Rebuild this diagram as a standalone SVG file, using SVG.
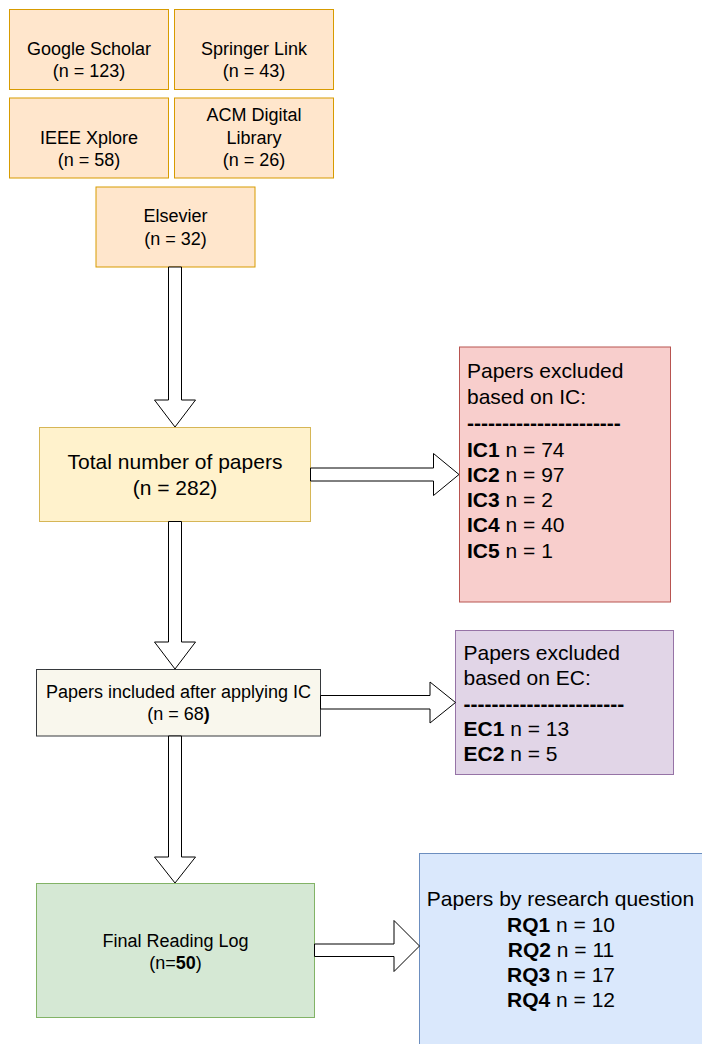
<svg xmlns="http://www.w3.org/2000/svg" width="702" height="1044" viewBox="0 0 702 1044">
<style>
text { font-family: "Liberation Sans", Arial, Helvetica, sans-serif; fill: #000; }
.c { text-anchor: middle; }
.s18 { font-size: 18px; }
.s21 { font-size: 21px; }
b, .b { font-weight: bold; }
.src { fill: #ffe6cc; stroke: #d79b00; stroke-width: 1; }
.arrow { fill: #ffffff; stroke: #000000; stroke-width: 1; stroke-linejoin: miter; }
</style>
<rect width="702" height="1044" fill="#ffffff"/>

<g id="google-scholar">
<rect class="src" x="9.5" y="9.5" width="159" height="80"/>
<text class="c s18" x="89" y="54.5">Google Scholar</text>
<text class="c s18" x="89" y="77">(n = 123)</text>
</g>
<g id="springer-link">
<rect class="src" x="174.5" y="9.5" width="159" height="80"/>
<text class="c s18" x="254" y="54.5">Springer Link</text>
<text class="c s18" x="254" y="77">(n = 43)</text>
</g>
<g id="ieee-xplore">
<rect class="src" x="9.5" y="98" width="159" height="80"/>
<text class="c s18" x="89" y="143.5">IEEE Xplore</text>
<text class="c s18" x="89" y="166">(n = 58)</text>
</g>
<g id="acm">
<rect class="src" x="174.5" y="98" width="159" height="80"/>
<text class="c s18" x="254" y="121">ACM Digital</text>
<text class="c s18" x="254" y="143.5">Library</text>
<text class="c s18" x="254" y="166">(n = 26)</text>
</g>
<g id="elsevier">
<rect class="src" x="96" y="187" width="159" height="80"/>
<text class="c s18" x="175.5" y="222">Elsevier</text>
<text class="c s18" x="175.5" y="244.5">(n = 32)</text>
</g>

<g id="total">
<rect x="39.5" y="427.5" width="271" height="94" fill="#fff2cc" stroke="#d6b656"/>
<text class="c s21" x="175" y="468.5">Total number of papers</text>
<text class="c s21" x="175" y="494.5">(n = 282)</text>
</g>

<g id="excluded-ic">
<rect x="459.5" y="347" width="211" height="255" fill="#f8cecc" stroke="#b85450"/>
<text class="s21" x="467" y="377.5">Papers excluded</text>
<text class="s21" x="467" y="403.5">based on IC:</text>
<text class="s21 b" x="467" y="430">----------------------</text>
<text class="s21" x="467" y="456.5"><tspan class="b">IC1</tspan> n = 74</text>
<text class="s21" x="467" y="481.8"><tspan class="b">IC2</tspan> n = 97</text>
<text class="s21" x="467" y="507.1"><tspan class="b">IC3</tspan> n = 2</text>
<text class="s21" x="467" y="532.4"><tspan class="b">IC4</tspan> n = 40</text>
<text class="s21" x="467" y="557.7"><tspan class="b">IC5</tspan> n = 1</text>
</g>

<g id="included-ic">
<rect x="36.5" y="669.5" width="284" height="66.5" fill="#f9f7ed" stroke="#36393d"/>
<text class="c s18" x="178.5" y="697.5">Papers included after applying IC</text>
<text class="c s18" x="178.5" y="720">(n = 68<tspan class="b">)</tspan></text>
</g>

<g id="excluded-ec">
<rect x="455.5" y="630.5" width="218" height="144" fill="#e1d5e7" stroke="#9673a6"/>
<text class="s21" x="463.5" y="659.5">Papers excluded</text>
<text class="s21" x="463.5" y="685">based on EC:</text>
<text class="s21 b" x="463.5" y="710.5">-----------------------</text>
<text class="s21" x="463.5" y="735.5"><tspan class="b">EC1</tspan> n = 13</text>
<text class="s21" x="463.5" y="761"><tspan class="b">EC2</tspan> n = 5</text>
</g>

<g id="final-log">
<rect x="36.5" y="883.5" width="278" height="134" fill="#d5e8d4" stroke="#82b366"/>
<text class="c s18" x="175.5" y="946.5">Final Reading Log</text>
<text class="c s18" x="175.5" y="968.5">(n=<tspan class="b">50</tspan>)</text>
</g>

<g id="by-rq">
<rect x="419.5" y="853.5" width="300" height="210" fill="#dae8fc" stroke="#6c8ebf"/>
<text class="c s21" x="560.5" y="906">Papers by research question</text>
<text class="c s21" x="561" y="932"><tspan class="b">RQ1</tspan> n = 10</text>
<text class="c s21" x="561" y="957"><tspan class="b">RQ2</tspan> n = 11</text>
<text class="c s21" x="561" y="982"><tspan class="b">RQ3</tspan> n = 17</text>
<text class="c s21" x="561" y="1007"><tspan class="b">RQ4</tspan> n = 12</text>
</g>

<g id="connectors">
<path class="arrow" d="M168.5,267 L181.5,267 L181.5,400 L195.5,400 L175,427 L154.5,400 L168.5,400 Z"/>
<path class="arrow" d="M168.5,521.5 L181.5,521.5 L181.5,642 L195.5,642 L175,669 L154.5,642 L168.5,642 Z"/>
<path class="arrow" d="M168.5,736 L181.5,736 L181.5,857 L195.5,857 L175,883 L154.5,857 L168.5,857 Z"/>
<path class="arrow" d="M310.5,468 L433.5,468 L433.5,453.5 L459,474.5 L433.5,495.5 L433.5,481 L310.5,481 Z"/>
<path class="arrow" d="M320.5,695.5 L430,695.5 L430,682 L455.5,702.5 L430,723 L430,709 L320.5,709 Z"/>
<path class="arrow" d="M314.5,944 L394,944 L394,920.5 L419.5,946 L394,971.5 L394,956.5 L314.5,956.5 Z"/>
</g>
</svg>
